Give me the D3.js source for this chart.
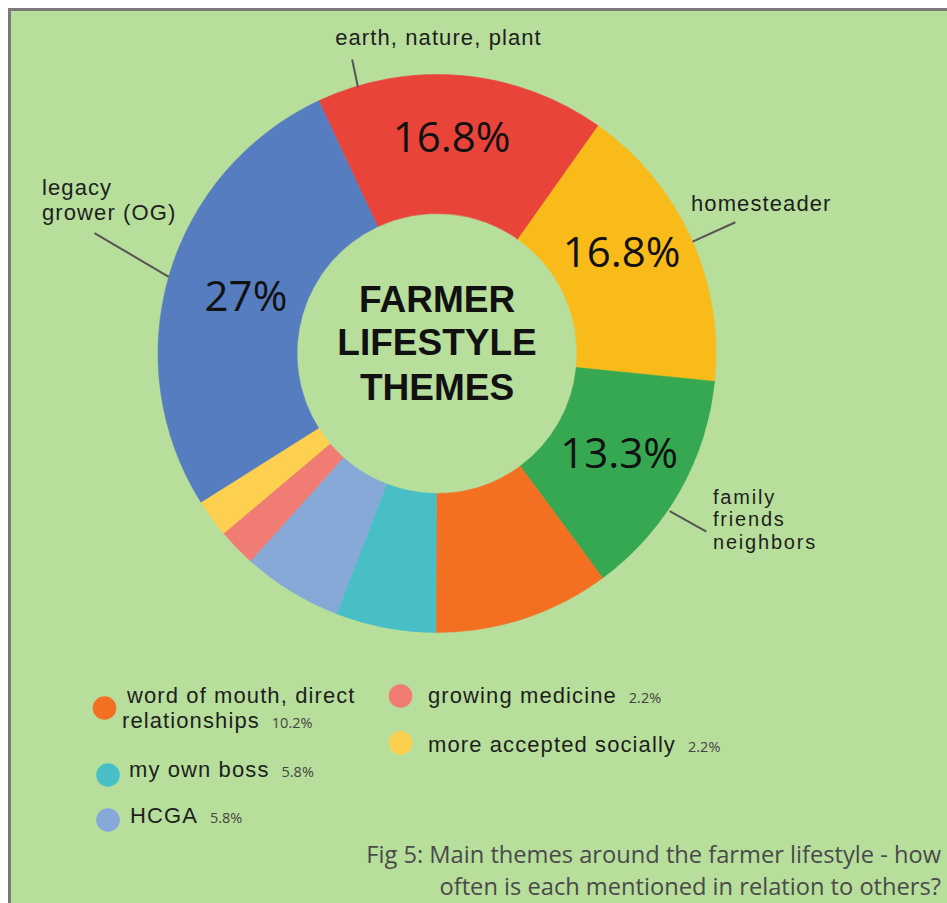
<!DOCTYPE html>
<html>
<head>
<meta charset="utf-8">
<script src="https://cdn.jsdelivr.net/npm/d3@7"></script>
<style>
  html, body { margin: 0; padding: 0; background: #fff; }
  svg { display: block; }
</style>
</head>
<body>
<svg id="chart" width="947" height="903"></svg>
<script>
// ---- data ----
const themes = [
  "earth, nature, plant", "homesteader", "family friends neighbors",
  "word of mouth, direct relationships", "my own boss", "HCGA",
  "growing medicine", "more accepted socially", "legacy grower (OG)"
];
const shares = [16.8, 16.8, 13.3, 10.2, 5.8, 5.8, 2.2, 2.2, 27];
const sliceColors = [
  "#e9443a", "#f8bb19", "#37a852", "#f37022", "#48bfc6",
  "#86a9d8", "#f07c73", "#fdd14f", "#567dc0"
];
const themeLines = [
  ["earth, nature, plant"], ["homesteader"], ["family", "friends", "neighbors"],
  ["word of mouth, direct", "relationships"], ["my own boss"], ["HCGA"],
  ["growing medicine"], ["more accepted socially"], ["legacy", "grower (OG)"]
];
const titleLines = ["FARMER", "LIFESTYLE", "THEMES"];
const captionLines = [
  "Fig 5: Main themes around the farmer lifestyle - how",
  "often is each mentioned in relation to others?"
];

// ---- layout ----
const W = 947, H = 903;
const cx = 437, cy = 353.5, rOuter = 279, rInner = 140;
const startAngle = -25.1 * Math.PI / 180;
const labelFont = "'Liberation Sans', Arial, sans-serif";

const svg = d3.select("#chart");

// page frame
svg.append("rect").attr("width", W).attr("height", H).attr("fill", "#fff");
svg.append("rect").attr("x", 8).attr("y", 8).attr("width", W).attr("height", H).attr("fill", "#7a7a7a");
svg.append("rect").attr("x", 11).attr("y", 11).attr("width", W).attr("height", H).attr("fill", "#b7de9b");

// donut
const pie = d3.pie().sort(null).value(d => d)
  .startAngle(startAngle).endAngle(startAngle + 2 * Math.PI);
const arcs = pie(shares);
const arc = d3.arc().innerRadius(rInner).outerRadius(rOuter);

const g = svg.append("g").attr("transform", `translate(${cx},${cy})`);
g.selectAll("path.slice").data(arcs).join("path")
  .attr("class", "slice")
  .attr("d", arc)
  .attr("fill", (d, i) => sliceColors[i])
  .attr("stroke", (d, i) => sliceColors[i])
  .attr("stroke-width", 0.6);

// percentage labels inside the larger slices
const inside = [
  { i: 0, dx: -4, dy: -8 },
  { i: 1, dx: -6, dy: -15 },
  { i: 2, dx: 0, dy: -4 },
  { i: 8, dx: 10, dy: 1 }
];
g.selectAll("text.pct").data(inside).join("text")
  .attr("class", "pct")
  .attr("x", d => arc.centroid(arcs[d.i])[0] + d.dx)
  .attr("y", d => arc.centroid(arcs[d.i])[1] + d.dy)
  .attr("dy", "0.36em")
  .attr("text-anchor", "middle")
  .attr("font-family", "'Open Sans', sans-serif")
  .attr("font-size", 42)
  .attr("fill", "#111")
  .text(d => `${shares[d.i]}%`);

// callout labels with leader lines
const angleAt = (d, f) => d.startAngle + (d.endAngle - d.startAngle) * f;
const callouts = [
  { i: 0, f0: 0.142, f1: 0.149, r0: 278, r1: 306, x: 438.5, y: 45, anchor: "middle", size: 22, ls: 1.1, lead: 25 },
  { i: 1, f0: 0.514, f1: 0.512, r0: 279, r1: 326, x: 691, y: 211, anchor: "start", size: 22, ls: 1.1, lead: 25 },
  { i: 2, f0: 0.593, f1: 0.580, r0: 281, r1: 323, x: 713, y: 504, anchor: "start", size: 20, ls: 1.8, lead: 22.4 },
  { i: 8, f0: 0.496, f1: 0.531, r0: 279, r1: 363, x: 42, y: 195, anchor: "start", size: 22, ls: 1.1, lead: 25 }
];
callouts.forEach(c => {
  const d = arcs[c.i];
  const p0 = d3.pointRadial(angleAt(d, c.f0), c.r0);
  const p1 = d3.pointRadial(angleAt(d, c.f1), c.r1);
  g.append("line")
    .attr("x1", p0[0]).attr("y1", p0[1])
    .attr("x2", p1[0]).attr("y2", p1[1])
    .attr("stroke", "#555").attr("stroke-width", 2);
  themeLines[c.i].forEach((line, k) => {
    svg.append("text")
      .attr("x", c.x).attr("y", c.y + k * c.lead)
      .attr("text-anchor", c.anchor)
      .attr("font-family", labelFont)
      .attr("font-size", c.size)
      .attr("letter-spacing", c.ls)
      .attr("fill", "#1e1e1e")
      .text(line);
  });
});

// centre title
svg.append("text")
  .attr("text-anchor", "middle")
  .attr("font-family", labelFont)
  .attr("font-weight", "bold")
  .attr("font-size", 37)
  .attr("fill", "#111")
  .selectAll("tspan").data(titleLines).join("tspan")
  .attr("x", cx)
  .attr("y", (d, k) => [312, 355, 400][k])
  .text(d => d);

// legend for the smaller slices
const legend = [
  { i: 3, cx: 104.5, cy: 708, xs: [127, 122], ys: [703, 728] },
  { i: 4, cx: 108, cy: 775, xs: [129], ys: [777] },
  { i: 5, cx: 108, cy: 820, xs: [130], ys: [823] },
  { i: 6, cx: 400.5, cy: 696, xs: [428], ys: [703] },
  { i: 7, cx: 400.5, cy: 743, xs: [428], ys: [752] }
];
legend.forEach(L => {
  svg.append("circle").attr("cx", L.cx).attr("cy", L.cy).attr("r", 11.8)
    .attr("fill", sliceColors[L.i]);
  let lastEnd = 0, lastY = 0;
  themeLines[L.i].forEach((line, k) => {
    const t = svg.append("text")
      .attr("x", L.xs[k]).attr("y", L.ys[k])
      .attr("font-family", labelFont)
      .attr("font-size", 22)
      .attr("letter-spacing", 1.1)
      .attr("fill", "#1e1e1e")
      .text(line);
    lastEnd = L.xs[k] + t.node().getComputedTextLength();
    lastY = L.ys[k];
  });
  svg.append("text")
    .attr("x", lastEnd + 12).attr("y", lastY)
    .attr("font-family", "'Open Sans', sans-serif")
    .attr("font-size", 14.5)
    .attr("fill", "#444")
    .text(`${shares[L.i]}%`);
});

// caption, right aligned
const cap = svg.append("g")
  .attr("font-family", "'Open Sans', sans-serif")
  .attr("fill", "#4a4a4a")
  .attr("text-anchor", "end");
const capTexts = captionLines.map((line, k) =>
  cap.append("text").attr("x", 941).attr("y", [863, 895][k]).attr("font-size", 24).text(line));
const w0 = capTexts[0].node().getComputedTextLength();
const capSize = 24 * 575 / w0;
capTexts.forEach(t => t.attr("font-size", capSize));
</script>
</body>
</html>
